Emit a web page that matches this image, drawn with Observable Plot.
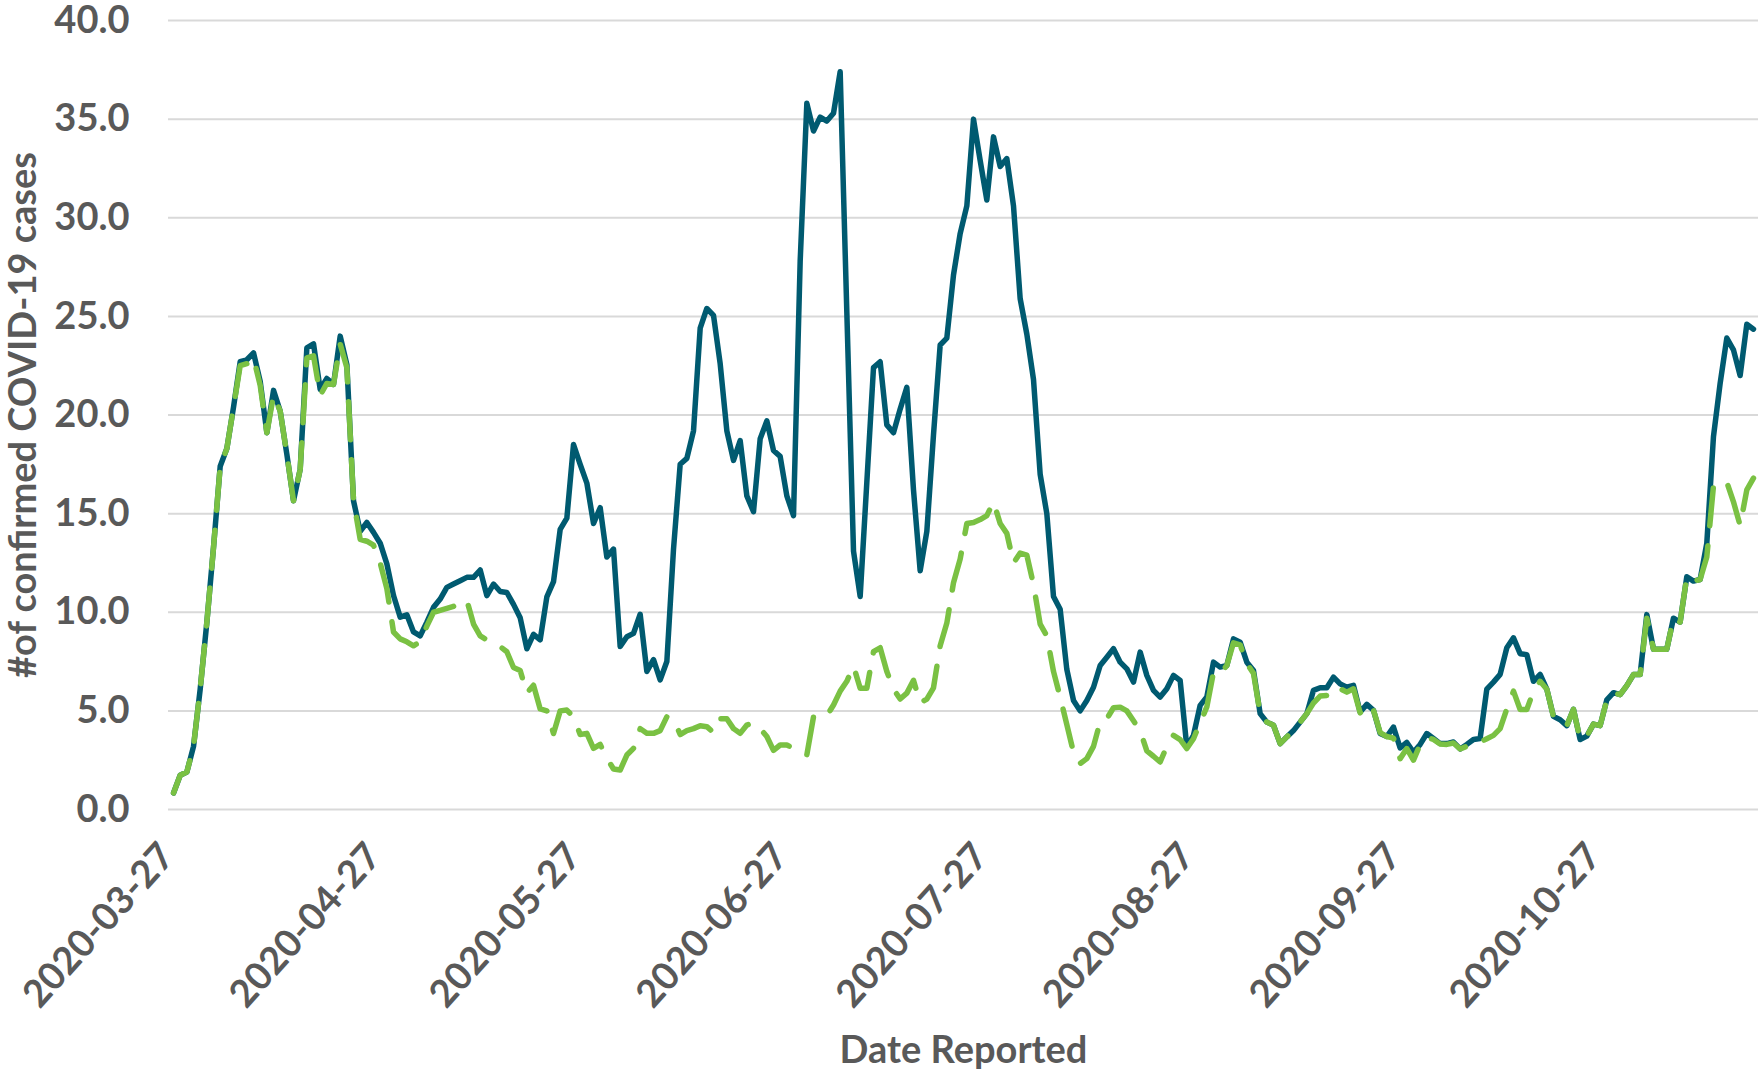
<!DOCTYPE html>
<html>
<head>
<meta charset="utf-8">
<script src="https://cdn.jsdelivr.net/npm/d3@7"></script>
<script src="https://cdn.jsdelivr.net/npm/@observablehq/plot@0.6"></script>
<style>
  html, body { margin: 0; padding: 0; background: #ffffff; }
  #chart svg { display: block; }
</style>
</head>
<body>
<div id="chart"></div>
<script>
// ---- data ----
const startDate = "2020-03-27";

const solidSeries = [
  0.84, 1.74, 1.9, 3.2, 6.1, 9.5, 13.3, 17.4, 18.3, 20.4,
  22.7, 22.8, 23.15, 21.7, 19.1, 21.25, 20.2, 18.0, 15.65, 17.25,
  23.4, 23.6, 21.3, 21.85, 21.55, 24.0, 22.56, 15.65, 14.1, 14.55,
  14.05, 13.5, 12.45, 10.85, 9.75, 9.87, 9.0, 8.8, 9.5, 10.25,
  10.67, 11.26, 11.43, 11.6, 11.77, 11.77, 12.14, 10.84, 11.43, 11.05,
  11.0, 10.4, 9.72, 8.15, 8.88, 8.6, 10.78, 11.55, 14.2, 14.77,
  18.5, 17.5, 16.55, 14.5, 15.3, 12.8, 13.2, 8.26, 8.76, 8.93,
  9.9, 7.0, 7.6, 6.57, 7.5, 13.2, 17.5, 17.8, 19.2, 24.4,
  25.4, 25.05, 22.6, 19.2, 17.7, 18.7, 15.9, 15.1, 18.8, 19.7,
  18.2, 17.9, 15.9, 14.9, 27.8, 35.8, 34.4, 35.1, 34.9, 35.3,
  37.4, 25.2, 13.1, 10.8, 16.6, 22.4, 22.7, 19.5, 19.1, 20.3,
  21.4, 16.2, 12.1, 14.1, 19.0, 23.55, 23.9, 27.1, 29.2, 30.6,
  35.0, 32.9, 30.9, 34.1, 32.6, 33.0, 30.6, 25.9, 24.1, 21.8,
  17.0, 15.0, 10.8, 10.15, 7.1, 5.53, 5.0, 5.53, 6.2, 7.3,
  7.72, 8.15, 7.47, 7.13, 6.46, 7.98, 6.8, 6.04, 5.7, 6.12,
  6.8, 6.54, 3.17, 3.76, 5.28, 5.7, 7.47, 7.22, 7.3, 8.65,
  8.48, 7.47, 7.05, 4.86, 4.43, 4.27, 3.34, 3.68, 4.0, 4.43,
  4.86, 6.04, 6.17, 6.17, 6.71, 6.37, 6.2, 6.29, 4.94, 5.33,
  5.03, 3.85, 3.7, 4.18, 3.12, 3.4, 2.9, 3.3, 3.85, 3.6,
  3.34, 3.34, 3.42, 3.07, 3.3, 3.55, 3.6, 6.1, 6.46, 6.85,
  8.2, 8.7, 7.9, 7.85, 6.5, 6.85, 6.1, 4.72, 4.55, 4.25,
  5.08, 3.55, 3.72, 4.33, 4.25, 5.56, 5.92, 5.82, 6.28, 6.84,
  6.84, 9.88, 8.13, 8.13, 8.13, 9.7, 9.5, 11.8, 11.58, 11.66,
  13.5, 18.9, 21.6, 23.9, 23.3, 22.0, 24.6, 24.35
];

const dashedSeries = [
  0.84, 1.74, 1.9, 3.2, 6.1, 9.5, 13.3, 17.4, 18.3, 20.4,
  22.5, 22.6, 22.9, 21.5, 19.1, 21.0, 20.2, 18.0, 15.65, 17.25,
  22.9, 23.0, 21.0, 21.6, 21.55, 23.6, 22.4, 15.65, 13.7, 13.6,
  13.4, 12.5, 11.2, 9.0, 8.65, 8.5, 8.3, 8.5, 9.3, 10.0,
  10.1, 10.2, 10.3, 10.5, 10.6, 9.4, 8.8, 8.6, 8.4, 8.26,
  8.0, 7.2, 7.05, 5.9, 6.3, 5.1, 5.0, 3.85, 5.0, 5.04,
  4.7, 3.8, 3.86, 3.1, 3.3, 2.6, 2.05, 2.0, 2.76, 3.1,
  4.1, 3.86, 3.86, 4.0, 4.7, 4.6, 3.8, 4.0, 4.1, 4.25,
  4.2, 3.9, 4.6, 4.6, 4.1, 3.86, 4.28, 4.4, 4.1, 3.7,
  3.0, 3.27, 3.27, 3.1, 2.9, 2.77, 4.7, 4.7, 4.75, 5.3,
  6.0, 6.5, 7.27, 6.15, 6.15, 8.0, 8.2, 7.0, 6.1, 5.6,
  5.9, 6.55, 5.4, 5.6, 6.17, 8.3, 9.45, 11.5, 12.7, 14.5,
  14.55, 14.7, 14.9, 15.6, 14.5, 14.0, 12.5, 13.0, 12.9, 11.4,
  9.4, 8.8, 7.0, 5.7, 4.3, 2.9, 2.33, 2.58, 3.2, 4.45,
  4.6, 5.16, 5.19, 5.0, 4.5, 4.0, 2.97, 2.7, 2.41, 3.2,
  3.76, 3.54, 3.09, 3.59, 4.4, 5.2, 6.96, 6.88, 7.3, 8.45,
  8.35, 7.4, 6.9, 4.86, 4.43, 4.27, 3.34, 3.68, 4.0, 4.43,
  4.86, 5.4, 5.75, 5.78, 6.2, 6.12, 5.95, 6.12, 4.9, 5.33,
  5.03, 3.9, 3.7, 3.62, 2.58, 3.09, 2.5, 3.3, 3.65, 3.55,
  3.32, 3.3, 3.37, 3.07, 3.2, 3.35, 3.42, 3.59, 3.76, 4.1,
  5.1, 6.0, 5.07, 5.07, 6.0, 6.5, 6.1, 4.7, 4.55, 4.25,
  5.08, 3.55, 3.72, 4.33, 4.25, 5.56, 5.92, 5.82, 6.28, 6.84,
  6.84, 9.7, 8.13, 8.13, 8.13, 9.7, 9.5, 11.8, 11.58, 11.66,
  12.8, 16.4, 16.6, 16.6, 15.6, 14.4, 16.2, 16.8
];

const xTickLabels = [
  "2020-03-27", "2020-04-27", "2020-05-27", "2020-06-27",
  "2020-07-27", "2020-08-27", "2020-09-27", "2020-10-27"
];

const yTicks = [0, 5, 10, 15, 20, 25, 30, 35, 40];

const yTitle = "#of confirmed COVID-19 cases";
const xTitle = "Date Reported";

// ---- build table ----
const day0 = new Date(startDate + "T00:00:00Z");
const rows = solidSeries.map((v, i) => ({
  date: d3.utcDay.offset(day0, i),
  solid: v,
  dashed: dashedSeries[i]
}));
const lastDate = rows[rows.length - 1].date;
const xDomain = [d3.utcHour.offset(day0, -12), d3.utcHour.offset(lastDate, 12)];

const TEXT = "#595959";
const FONT = "Lato, 'Open Sans', sans-serif";

const chart = Plot.plot({
  width: 1758,
  height: 1072,
  marginLeft: 168,
  marginRight: 0,
  marginTop: 20,
  marginBottom: 263,
  x: {type: "utc", domain: xDomain, range: [169.7, 1756.3], axis: null},
  y: {domain: [0, 40], axis: null},
  style: {background: "#ffffff", fontFamily: FONT},
  marks: [
    Plot.ruleY(yTicks, {stroke: "#D9D9D9", strokeWidth: 2}),
    Plot.text(yTicks, {
      y: d => d, text: d => d.toFixed(1),
      frameAnchor: "left", dx: -39, textAnchor: "end", lineAnchor: "middle",
      fontSize: 38, fontWeight: "bold", fill: TEXT, fontFamily: FONT
    }),
    Plot.text(xTickLabels, {
      x: d => new Date(d + "T00:00:00Z"), text: d => d,
      frameAnchor: "bottom", rotate: -48, textAnchor: "end", lineAnchor: "middle",
      dx: -6, dy: 40,
      fontSize: 38, fontWeight: "bold", fill: TEXT, fontFamily: FONT
    }),
    Plot.text([yTitle], {
      frameAnchor: "left", dx: -145, rotate: -90,
      textAnchor: "middle", lineAnchor: "middle",
      fontSize: 38, fontWeight: "bold", fill: TEXT, fontFamily: FONT
    }),
    Plot.text([xTitle], {
      frameAnchor: "bottom", dy: 241,
      textAnchor: "middle", lineAnchor: "middle",
      fontSize: 38, fontWeight: "bold", fill: TEXT, fontFamily: FONT
    }),
    Plot.line(rows, {
      x: "date", y: "solid",
      stroke: "#005A70", strokeWidth: 5.5,
      strokeLinejoin: "round", strokeLinecap: "round"
    }),
    Plot.line(rows, {
      x: "date", y: "dashed",
      stroke: "#7AC143", strokeWidth: 5.5,
      strokeDasharray: "38,20",
      strokeLinejoin: "round", strokeLinecap: "round"
    })
  ]
});

document.getElementById("chart").appendChild(chart);
</script>
</body>
</html>
